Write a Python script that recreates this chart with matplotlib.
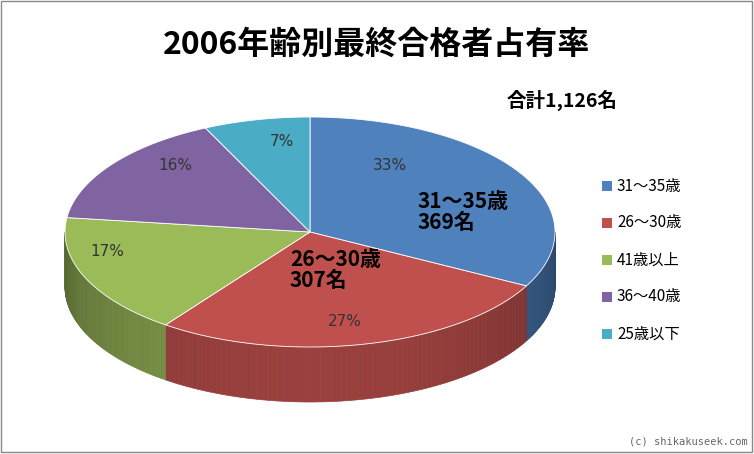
import matplotlib
matplotlib.use("Agg")
import matplotlib.pyplot as plt
import numpy as np
from matplotlib.patches import Polygon, Rectangle
from matplotlib.colors import to_rgb

plt.rcParams["font.family"] = ["Noto Sans CJK JP", "DejaVu Sans"]

LABELS = ["31～35歳", "26～30歳", "41歳以上", "36～40歳", "25歳以下"]
COUNTS = [369, 307, 191, 180, 79]
COLORS = ["#4F81BD", "#C0504D", "#9BBB59", "#8064A2", "#4BACC6"]
PCT_POS = [(390, 165), (345, 322), (107, 251), (175, 165), (282, 142)]
BIG_POS = {0: (418, 212), 1: (290, 270)}

CX, CY, A, B, DEPTH = 310, 232, 245, 115, 55


def pt(th, dy=0):
    r = np.radians(th)
    return CX + A * np.cos(r), CY - B * np.sin(r) + dy


def darker(c, f):
    return tuple(v * f for v in to_rgb(c))


def main():
    fig = plt.figure(figsize=(7.54, 4.54), dpi=100)
    ax = fig.add_axes([0, 0, 1, 1])
    ax.set_xlim(0, 754)
    ax.set_ylim(454, 0)
    ax.axis("off")
    ax.add_patch(Rectangle((1, 1), 751, 451, fill=False, ec="#888888", lw=1))

    total = sum(COUNTS)
    bounds = [90.0]
    for c in COUNTS:
        bounds.append(bounds[-1] - c / total * 360)

    # side walls (front half only)
    for i, col in enumerate(COLORS):
        a1, a2 = bounds[i], bounds[i + 1]
        lo, hi = max(a2, -180), min(a1, 0)
        if lo >= hi:
            continue
        ths = np.linspace(hi, lo, 80)
        for j in range(len(ths) - 1):
            t0, t1 = ths[j], ths[j + 1]
            shade = 0.55 + 0.25 * abs(np.cos(np.radians((t0 + 90))))
            p = [pt(t0), pt(t1), pt(t1, DEPTH), pt(t0, DEPTH)]
            ax.add_patch(Polygon(p, closed=True, fc=darker(col, shade), ec=darker(col, shade), lw=0.5))

    # top faces
    for i, col in enumerate(COLORS):
        a1, a2 = bounds[i], bounds[i + 1]
        ths = np.linspace(a1, a2, 120)
        p = [(CX, CY)] + [pt(t) for t in ths]
        ax.add_patch(Polygon(p, closed=True, fc=col, ec="white", lw=0.6))

    for i in range(len(COUNTS)):
        x, y = PCT_POS[i]
        ax.text(x, y, f"{COUNTS[i] / total * 100:.0f}%", ha="center", va="center",
                fontsize=11, color="#333333", family=["DejaVu Sans"])
    for i, (x, y) in BIG_POS.items():
        ax.text(x, y, f"{LABELS[i]}\n{COUNTS[i]}名", ha="left", va="center",
                fontsize=15, fontweight="bold", linespacing=1.05)

    ax.text(377, 45, "2006年齢別最終合格者占有率", ha="center", va="center",
            fontsize=23, fontweight="bold")
    ax.text(562, 100, f"合計{total:,}名", ha="center", va="center",
            fontsize=14, fontweight="bold")

    for i, (lab, col) in enumerate(zip(LABELS, COLORS)):
        y = 186 + i * 37
        ax.add_patch(Rectangle((602, y - 5), 10, 10, fc=col, ec="none"))
        ax.text(617, y, lab, ha="left", va="center", fontsize=11)

    ax.text(748, 441, "(c) shikakuseek.com", ha="right", va="center",
            fontsize=7.5, color="#666666", family=["DejaVu Sans Mono"])

    fig.savefig("out.png", dpi=100)


if __name__ == "__main__":
    main()
